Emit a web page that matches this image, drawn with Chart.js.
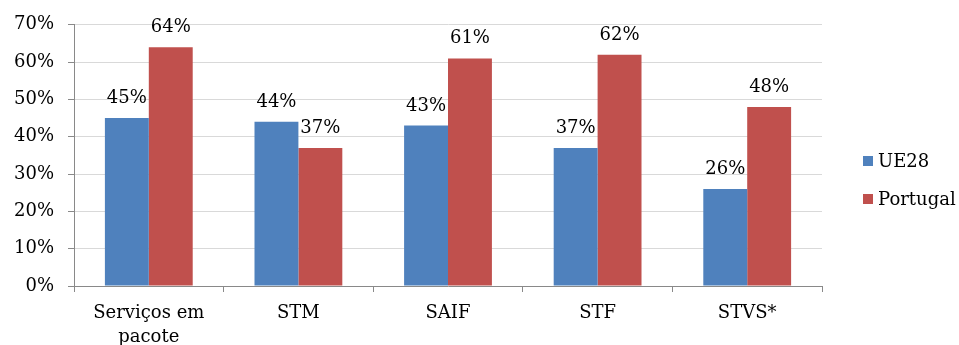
<!DOCTYPE html>
<html>
<head>
<meta charset="utf-8">
<script src="https://cdn.jsdelivr.net/npm/chart.js@4.4.1/dist/chart.umd.min.js"></script>
<style>
  html, body { margin: 0; padding: 0; background: #fff; }
  #wrap { width: 959px; height: 345px; position: relative; }
</style>
</head>
<body>
<div id="wrap"><canvas id="c"></canvas></div>
<script>
// Categories and series (percent)
const categories = [["Serviços em", "pacote"], "STM", "SAIF", "STF", "STVS*"];
const seriesNames = ["UE28", "Portugal"];
const ue28 = [45, 44, 43, 37, 26];
const portugal = [64, 37, 61, 62, 48];
const colors = ["#4F81BD", "#C0504D"];

const FONT = "'DejaVu Serif', 'Liberation Serif', serif";
const FSIZE = 18;

// Value labels drawn above every bar
const valueLabels = {
  id: 'valueLabels',
  afterDatasetsDraw(chart) {
    const ctx = chart.ctx;
    ctx.save();
    ctx.font = FSIZE + "px " + FONT;
    ctx.fillStyle = "#000";
    ctx.textAlign = "center";
    ctx.textBaseline = "alphabetic";
    chart.data.datasets.forEach((ds, i) => {
      chart.getDatasetMeta(i).data.forEach((bar, j) => {
        ctx.fillText(ds.data[j] + "%", bar.x, bar.y - 15);
      });
    });
    ctx.restore();
  }
};

// Legend to the right of the plot
const sideLegend = {
  id: 'sideLegend',
  afterDraw(chart) {
    const ctx = chart.ctx;
    ctx.save();
    ctx.font = FSIZE + "px " + FONT;
    ctx.textBaseline = "middle";
    ctx.textAlign = "left";
    const x0 = chart.chartArea.right + 41;
    const yStart = 161, step = 38;
    chart.data.datasets.forEach((ds, i) => {
      const y = yStart + i * step;
      ctx.fillStyle = ds.backgroundColor;
      ctx.fillRect(x0, y - 5, 10, 10);
      ctx.fillStyle = "#000";
      ctx.fillText(ds.label, x0 + 15, y + 1);
    });
    ctx.restore();
  }
};

new Chart(document.getElementById('c'), {
  type: 'bar',
  data: {
    labels: categories,
    datasets: [
      { label: seriesNames[0], data: ue28, backgroundColor: colors[0] },
      { label: seriesNames[1], data: portugal, backgroundColor: colors[1] }
    ]
  },
  options: {
    responsive: true,
    maintainAspectRatio: false,
    animation: false,
    layout: { padding: { top: 17, right: 137, bottom: 0, left: 0 } },
    datasets: { bar: { categoryPercentage: 0.587, barPercentage: 1.0 } },
    plugins: { legend: { display: false }, tooltip: { enabled: false } },
    scales: {
      x: {
        offset: true,
        afterFit: scale => { scale.height = 59; },
        grid: { offset: true, drawOnChartArea: false, tickLength: 6, color: '#898989', tickColor: '#898989' },
        border: { color: '#898989', width: 1 },
        ticks: { color: '#000', font: { family: FONT, size: FSIZE, lineHeight: 1.3 }, padding: 10, maxRotation: 0 }
      },
      y: {
        min: 0, max: 70,
        ticks: { stepSize: 10, color: '#000', padding: 14, font: { family: FONT, size: FSIZE },
                 callback: v => v + '%' },
        grid: { color: '#d9d9d9', tickColor: '#898989', tickLength: 6 },
        border: { color: '#898989', width: 1 }
      }
    }
  },
  plugins: [valueLabels, sideLegend]
});
</script>
</body>
</html>
